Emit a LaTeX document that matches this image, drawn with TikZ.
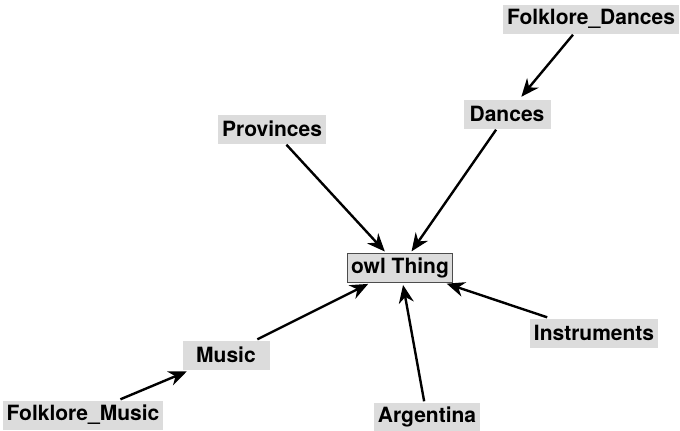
\documentclass[tikz,border=0pt]{standalone}
\usepackage{fontspec}
\setmainfont{TeX Gyre Heros}
\usepackage{tikz}
\usetikzlibrary{arrows.meta}

\definecolor{boxgray}{HTML}{DCDCDC}

\begin{document}
\begin{tikzpicture}[x=1pt,y=-1pt,->,>={Stealth[length=18pt,width=15pt]},shorten >=2pt,line width=2.4pt,
    class node/.style={fill=boxgray,font=\bfseries\fontsize{21}{24}\selectfont,inner xsep=4pt,inner ysep=3pt,minimum height=29pt,minimum width=87pt},
    root node/.style={class node,draw=black!70,line width=1pt}]
  \useasboundingbox (0,0) rectangle (680,431);
  \node[root node] (thing) at (400,268) {owl Thing};
  \node[class node] (fdances) at (591,19) {Folklore\_Dances};
  \node[class node] (dances) at (507,114) {Dances};
  \node[class node] (prov) at (272,129) {Provinces};
  \node[class node] (music) at (226,355) {Music};
  \node[class node] (fmusic) at (83,415) {Folklore\_Music};
  \node[class node] (arg) at (427,417) {Argentina};
  \node[class node] (instr) at (594,333) {Instruments};

  \path
  (fdances.south) ++(-18,0) coordinate (fd0)
  (fd0) edge (dances)
  (dances) edge (thing)
  (prov) edge (thing)
  (music) edge (thing)
  (fmusic) edge (music)
  (arg) edge (thing)
  (instr) edge (thing);
\end{tikzpicture}
\end{document}
